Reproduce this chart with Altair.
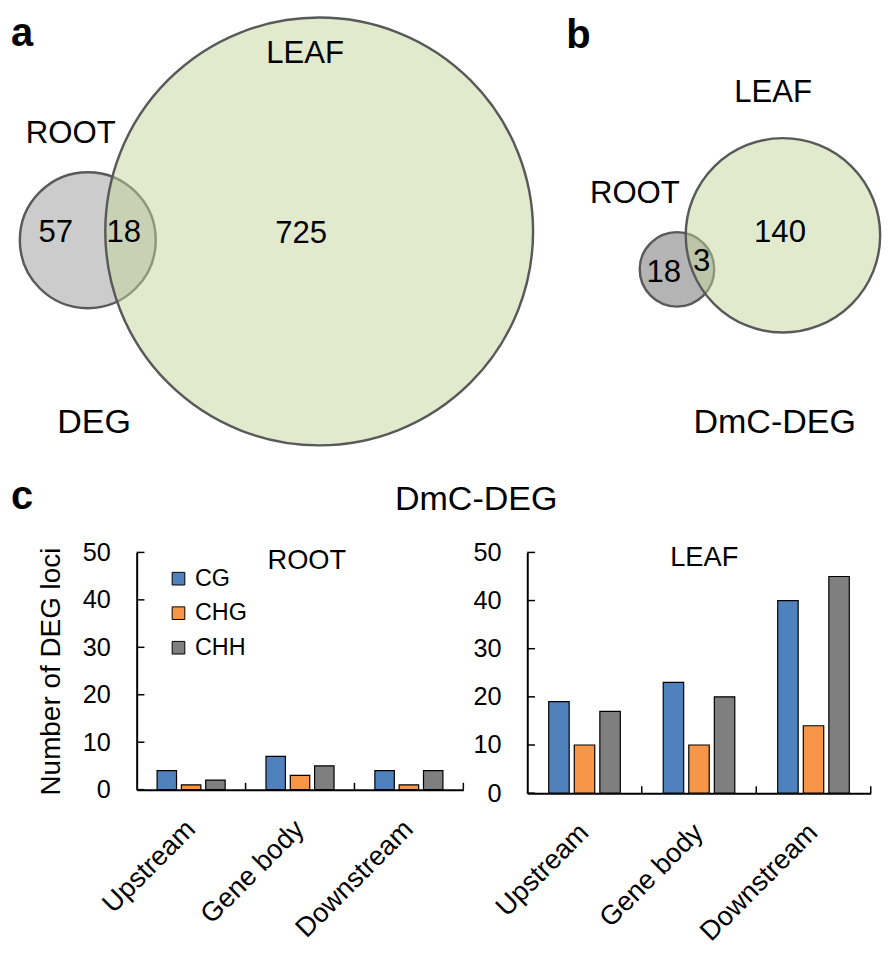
import altair as alt
import pandas as pd

S = 0.98          # overall scale (reference px -> chart px)
FONT = "Liberation Sans"

# ---------------- data ----------------
set_names = ["ROOT", "LEAF"]
venn_titles = ["DEG", "DmC-DEG"]
deg_only_root, deg_both, deg_only_leaf = 57, 18, 725
dmc_only_root, dmc_both, dmc_only_leaf = 18, 3, 140

regions = ["Upstream", "Gene body", "Downstream"]
contexts = ["CG", "CHG", "CHH"]
root_CG = [4, 7, 4]
root_CHG = [1, 3, 1]
root_CHH = [2, 5, 4]
leaf_CG = [19, 23, 40]
leaf_CHG = [10, 10, 14]
leaf_CHH = [17, 20, 45]
y_ticks = [0, 10, 20, 30, 40, 50]
panel_c_title = "DmC-DEG"
y_title = "Number of DEG loci"

# ---------------- layout (reference pixel units) ----------------
TOP_W, TOP_H = 875, 545
A_ROOT_C, A_LEAF_C, A_LEAF_R = (79, 235), (317, 226), 220
B_ROOT_C, B_LEAF_C, B_LEAF_R = (685, 265), (794, 230), 100
bar_colors = ["#4f81bd", "#f79646", "#7f7f7f"]
STROKE = "#595959"

XS = alt.Scale(domain=[0, TOP_W / S], nice=False, zero=False)
YS = alt.Scale(domain=[0, TOP_H / S], nice=False, zero=False, reverse=True)


def circle_layer(rows, n_max, r_max):
    df = pd.DataFrame(rows)
    return alt.Chart(df).mark_circle(stroke=STROKE, strokeWidth=2.5 * S, opacity=1).encode(
        x=alt.X("cx:Q", scale=XS, axis=None),
        y=alt.Y("cy:Q", scale=YS, axis=None),
        size=alt.Size("n:Q", scale=alt.Scale(type="linear", zero=True, domain=[0, n_max],
                                             range=[0, (2 * r_max * S) ** 2]), legend=None),
        fill=alt.Fill("fill:N", scale=None),
        fillOpacity=alt.FillOpacity("fo:Q", scale=None),
    )


a_root_n = deg_only_root + deg_both
a_leaf_n = deg_only_leaf + deg_both
b_root_n = dmc_only_root + dmc_both
b_leaf_n = dmc_only_leaf + dmc_both

circ_a = circle_layer([
    {"cx": A_ROOT_C[0], "cy": A_ROOT_C[1], "n": a_root_n, "fill": "#cccccc", "fo": 1.0},
    {"cx": A_LEAF_C[0], "cy": A_LEAF_C[1], "n": a_leaf_n, "fill": "#c6d69e", "fo": 0.5},
], a_leaf_n, A_LEAF_R)
circ_b = circle_layer([
    {"cx": B_ROOT_C[0], "cy": B_ROOT_C[1], "n": b_root_n, "fill": "#b4b4b4", "fo": 1.0},
    {"cx": B_LEAF_C[0], "cy": B_LEAF_C[1], "n": b_leaf_n, "fill": "#c6d69e", "fo": 0.5},
], b_leaf_n, B_LEAF_R)

labels = pd.DataFrame([
    {"t": set_names[0], "x": 61.5, "y": 135, "fs": 32},
    {"t": set_names[1], "x": 302.5, "y": 53, "fs": 32},
    {"t": str(deg_only_root), "x": 46, "y": 237, "fs": 32},
    {"t": str(deg_both), "x": 116, "y": 237, "fs": 32},
    {"t": str(deg_only_leaf), "x": 298.5, "y": 238, "fs": 32},
    {"t": venn_titles[0], "x": 85.5, "y": 433, "fs": 35},
    {"t": set_names[1], "x": 784, "y": 93, "fs": 32},
    {"t": set_names[0], "x": 641.7, "y": 197, "fs": 32},
    {"t": str(dmc_only_leaf), "x": 791, "y": 237, "fs": 32},
    {"t": str(dmc_only_root), "x": 671.5, "y": 278, "fs": 32},
    {"t": str(dmc_both), "x": 710.5, "y": 267, "fs": 32},
    {"t": venn_titles[1], "x": 785.5, "y": 433, "fs": 35},
    {"t": panel_c_title, "x": 478.5, "y": 512, "fs": 35},
])
labels["fs"] = labels["fs"] * S

text_reg = alt.Chart(labels).mark_text(font=FONT, align="center", baseline="alphabetic", color="black").encode(
    x=alt.X("x:Q", scale=XS, axis=None),
    y=alt.Y("y:Q", scale=YS, axis=None),
    text="t:N",
    size=alt.Size("fs:Q", scale=None),
)

letters = pd.DataFrame([
    {"t": "a", "x": 0, "y": 35},
    {"t": "b", "x": 571, "y": 37},
    {"t": "c", "x": 0, "y": 511},
])
text_bold = alt.Chart(letters).mark_text(font=FONT, fontWeight="bold", fontSize=41 * S, align="left",
                                         baseline="alphabetic", color="black").encode(
    x=alt.X("x:Q", scale=XS, axis=None),
    y=alt.Y("y:Q", scale=YS, axis=None),
    text="t:N",
)

top = alt.layer(circ_a, circ_b, text_reg, text_bold).resolve_scale(size="independent").properties(
    width=TOP_W, height=TOP_H)


# ---------------- bar panels ----------------
def bar_panel(cg, chg, chh, width, height, title_text, tdx, tdy, show_legend, ytitle):
    vals = {"CG": cg, "CHG": chg, "CHH": chh}
    df = pd.DataFrame([{"region": r, "type": c, "v": vals[c][i]}
                       for c in contexts for i, r in enumerate(regions)])
    xsc = alt.Scale(domain=regions, paddingInner=0, paddingOuter=0)
    ysc = alt.Scale(domain=[0, 50], nice=False, zero=True)
    yaxis_kw = dict(values=y_ticks, ticks=False, tickSize=0, grid=False, domainColor="black",
                    domainWidth=2, labelFont=FONT, labelFontSize=26 * S, labelColor="black",
                    labelPadding=27 * S)
    if ytitle:
        yaxis_kw.update(title=ytitle, titleFont=FONT, titleFontSize=28.7 * S, titleFontWeight="normal",
                        titleColor="black", titlePadding=17 * S)
    else:
        yaxis_kw.update(title=None)
    yaxis = alt.Axis(**yaxis_kw)
    xaxis = alt.Axis(title=None, labelAngle=315, labelAlign="right", labelBaseline="middle",
                     labelFont=FONT, labelFontSize=28 * S, labelColor="black",
                     labelPadding=36 * S, labelOverlap=False, ticks=False, tickSize=0,
                     domainColor="black", domainWidth=2, grid=False)
    if show_legend:
        legend = alt.Legend(orient="none", legendX=31 * S, legendY=15 * S, title=None,
                            symbolType="square", symbolSize=(13 * S) ** 2, symbolStrokeColor="black",
                            symbolStrokeWidth=1, labelFont=FONT, labelFontSize=24 * S,
                            labelColor="black", labelOffset=5 * S, rowPadding=10 * S, padding=0)
    else:
        legend = None
    bars = alt.Chart(df).mark_bar(stroke="black", strokeWidth=1.2).encode(
        x=alt.X("region:N", scale=xsc, sort=regions, axis=xaxis),
        xOffset=alt.XOffset("type:N", sort=contexts,
                            scale=alt.Scale(domain=contexts, paddingInner=0.2, paddingOuter=0.84)),
        y=alt.Y("v:Q", scale=ysc, axis=yaxis),
        color=alt.Color("type:N", sort=contexts, scale=alt.Scale(domain=contexts, range=bar_colors),
                        legend=legend),
    )
    ytick = alt.Chart(pd.DataFrame({"v": y_ticks})).mark_rule(color="black", strokeWidth=1.5).encode(
        y=alt.Y("v:Q", scale=ysc, axis=yaxis),
        x=alt.value(0), x2=alt.value(8 * S),
    )
    xtick = alt.Chart(pd.DataFrame({"region": regions})).mark_rule(color="black", strokeWidth=1.5).encode(
        x=alt.X("region:N", scale=xsc, sort=regions, bandPosition=1, axis=xaxis),
        y=alt.value(height), y2=alt.value(height - 7 * S),
    )
    ttl = alt.Chart(pd.DataFrame({"t": [title_text]})).mark_text(
        font=FONT, fontSize=28 * S, align="center", baseline="alphabetic", color="black").encode(
        text="t:N", x=alt.value(tdx * S), y=alt.value(tdy * S))
    return alt.layer(bars, ytick, xtick, ttl).properties(width=width, height=height)


root_panel = bar_panel(root_CG, root_CHG, root_CHH, 336 * S, 244 * S, set_names[0], 175, 17, True, y_title)
leaf_panel = bar_panel(leaf_CG, leaf_CHG, leaf_CHH, 353.3 * S, 247.6 * S, set_names[1], 182, 14, False, None)

spacer = alt.Chart(pd.DataFrame({"v": [0]})).mark_point(opacity=0).encode(
    x=alt.value(0), y=alt.value(0)).properties(width=64 * S, height=244 * S)

bottom = alt.hconcat(spacer, root_panel, leaf_panel, spacing=65 * S, bounds="flush").resolve_scale(
    x="independent", y="independent", xOffset="independent").resolve_legend(color="independent")

chart = alt.vconcat(top, bottom, spacing=0, bounds="flush").resolve_legend(
    color="independent").properties(padding=0, background="white").configure_view(stroke=None)

chart.save("out.html", embed_options={"renderer": "svg", "actions": False})
